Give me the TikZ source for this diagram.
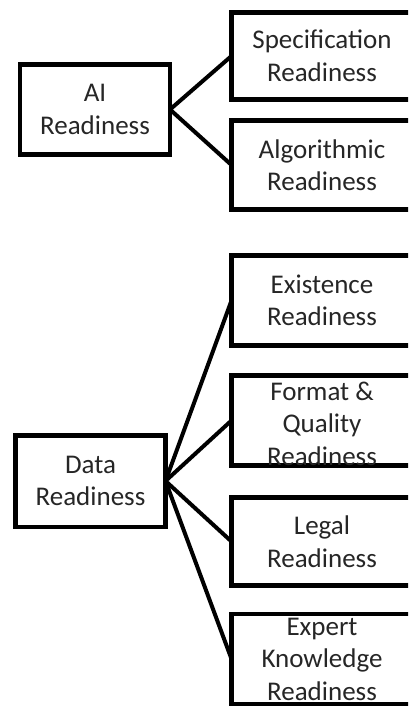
\documentclass[tikz,border=0pt]{standalone}
\usepackage{fontspec}
\setmainfont{Carlito}
\usepackage{tikz}

\begin{document}
\begin{tikzpicture}[x=1pt, y=-1pt,
    box/.style={draw, line width=4.5pt, minimum width=150pt, minimum height=90pt, inner sep=0pt, outer sep=0pt},
    sub/.style={box, minimum width=181pt},
    txt/.style={align=center, text=black!85, font=\fontsize{27}{32.5}\selectfont},
    low/.style={txt, yshift=-3pt},
    conn/.style={line width=4pt}]
  \useasboundingbox (0,0) rectangle (408,706);
  \clip (0,0) rectangle (408,706);

  % AI readiness
  \node[box, label={[txt]center:{AI\\Readiness}}] (ai) at (95,109.5) {};
  \node[sub, minimum height=87pt, label={[txt]center:{Specification\\Readiness}}] (spec) at (322,56) {};
  \node[sub, minimum height=89pt, label={[txt]center:{Algorithmic\\Readiness}}] (algo) at (322,165) {};
  \draw[conn] (ai.east) -- (spec.west);
  \draw[conn] (ai.east) -- (algo.west);

  % data readiness
  \node[box, minimum height=91.5pt, label={[txt]center:{Data\\Readiness}}] (data) at (90.5,481) {};
  \node[sub, label={[txt]center:{Existence\\Readiness}}] (exist) at (322,300.5) {};
  \node[sub, label={[low]center:{Format \&\\Quality\\Readiness}}] (format) at (322,420.5) {};
  \node[sub, minimum height=88pt, label={[txt]center:{Legal\\Readiness}}] (legal) at (322,541.5) {};
  \node[sub, label={[txt]center:{Expert\\Knowledge\\Readiness}}] (expert) at (322,659) {};
  \draw[conn] (data.east) -- (exist.west);
  \draw[conn] (data.east) -- (format.west);
  \draw[conn] (data.east) -- (legal.west);
  \draw[conn] (data.east) -- (expert.west);
\end{tikzpicture}
\end{document}
